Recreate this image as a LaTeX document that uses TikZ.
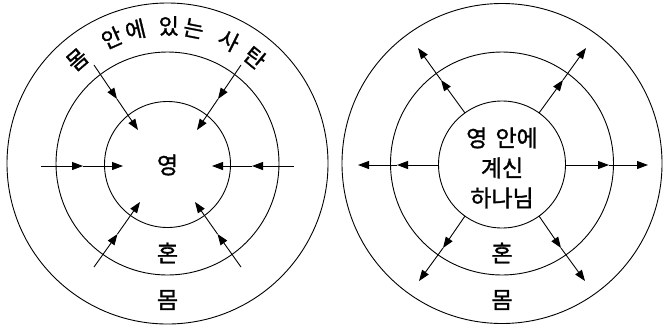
\documentclass[tikz,border=0pt]{standalone}
\usepackage{fontspec}
\setmainfont[FakeBold=1.3]{Noto Sans CJK KR}
\usetikzlibrary{arrows.meta}
\begin{document}
\begin{tikzpicture}[x=1pt,y=-1pt,
  ring/.style={line width=0.9pt},
  arr/.style={line width=0.9pt,-{Triangle[length=11pt,width=8pt]}},
  lbl/.style={font=\fontsize{23}{30}\selectfont, inner sep=0pt, align=center},
  arc text/.style={font=\fontsize{22}{26}\selectfont, inner sep=0pt},
]
\useasboundingbox (0,0) rectangle (666,330);
% left diagram
\coordinate (L) at (167.5,163.5);
\draw[ring] (L) circle[radius=160.5pt];
\draw[ring] (L) circle[radius=111.5pt];
\draw[ring] (167.5,164.5) circle[radius=63pt];
\node[lbl] (ly) at (167.5,165) {영};
\node[lbl] (lh) at (167.5,253) {혼};
\node[lbl] (lm) at (167.5,300) {몸};
\foreach \ch/\a [count=\i] in {몸/131,안/114,에/103.5,있/89.5,는/79,사/63.5,탄/50.5}
  \path (L) ++({cos(\a)*137.5},{-sin(\a)*137.5}) node[arc text,rotate=\a-90] (t\i) {\ch};
% left arrows
\foreach \n/\s/\m/\e in {1/{94,65}/{117,99}/{138,130},
                        2/{241,65}/{218,99}/{197,130},
                        3/{41,166}/{83,166}/{123,166},
                        4/{294,166}/{252,166}/{212,166},
                        5/{94,267}/{117.5,234}/{140,202},
                        6/{241,267}/{217.5,234}/{195,202}}{
  \coordinate (la\n s) at (\s);
  \coordinate (la\n m) at (\m);
  \coordinate (la\n e) at (\e);
  \draw[arr] (la\n s) -- (la\n m);
  \draw[arr] (la\n m) -- (la\n e);
}
% right diagram
\coordinate (R) at (502,163.5);
\draw[ring] (R) circle[radius=160pt];
\draw[ring] (R) circle[radius=111.5pt];
\draw[ring] (502,164.5) circle[radius=63.5pt];
\node[lbl] (ry) at (502,168) {영\hspace{3pt} 안에\\계신\\하나님};
\node[lbl] (rh) at (502,253) {혼};
\node[lbl] (rm) at (502,300) {몸};
\foreach \n/\s/\m/\e in {1/{465,113}/{441,80}/{418,48},
                        2/{539,113}/{563,80}/{586,48},
                        3/{438.5,165}/{397,165}/{358,165},
                        4/{565.5,165}/{609,165}/{648,165},
                        5/{465,216}/{443,248}/{419,281},
                        6/{539,216}/{561,248}/{585,281}}{
  \coordinate (ra\n s) at (\s);
  \coordinate (ra\n m) at (\m);
  \coordinate (ra\n e) at (\e);
  \draw[arr] (ra\n s) -- (ra\n m);
  \draw[arr] (ra\n m) -- (ra\n e);
}
\end{tikzpicture}
\end{document}
